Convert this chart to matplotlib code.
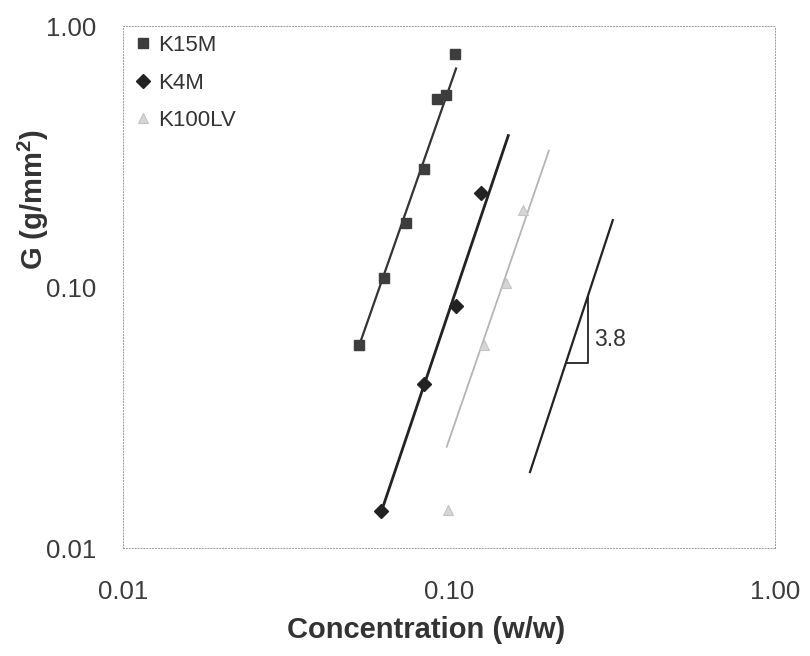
import numpy as np
import matplotlib.pyplot as plt
from matplotlib.ticker import FixedLocator, FormatStrFormatter, NullLocator

plt.rcParams['font.family'] = ['Liberation Sans', 'DejaVu Sans']
plt.rcParams['mathtext.fontset'] = 'custom'
plt.rcParams['mathtext.rm'] = 'Liberation Sans'
plt.rcParams['mathtext.bf'] = 'Liberation Sans:bold'

# measured gel strength vs polymer concentration
conc_k15m = [0.053, 0.063, 0.074, 0.084, 0.092, 0.098, 0.104]
g_k15m = [0.060, 0.108, 0.176, 0.283, 0.524, 0.544, 0.781]

conc_k4m = [0.062, 0.084, 0.105, 0.125]
g_k4m = [0.0139, 0.0424, 0.0846, 0.229]

conc_k100lv = [0.099, 0.128, 0.150, 0.169]
g_k100lv = [0.0140, 0.0599, 0.104, 0.197]

# power-law trendlines  G = a * c^n
fit_coef = [2138.0, 405.0, 108.0]
fit_exp = [3.57, 3.70, 3.62]
fit_lo = [0.053, 0.0621, 0.0984]
fit_hi = [0.1051, 0.152, 0.2025]

# reference slope
guide_exp = 3.8
guide_coef = 14.03
guide_lo, guide_hi = 0.1772, 0.318
tri_lo, tri_hi = 0.2285, 0.2664


def power_line(a, n, lo, hi):
    c = np.geomspace(lo, hi, 50)
    return c, a * c ** n


fig = plt.figure(figsize=(8.1, 6.56), dpi=100)
ax = fig.add_axes([0.1519, 0.1646, 0.8049, 0.7957])

line_styles = [('#333333', 1.6), ('#222222', 2.0), ('#b4b4b4', 1.3)]
for a, n, lo, hi, (col, lw) in zip(fit_coef, fit_exp, fit_lo, fit_hi, line_styles):
    c, g = power_line(a, n, lo, hi)
    ax.plot(c, g, color=col, lw=lw, zorder=2)

ax.plot(conc_k15m, g_k15m, 's', ms=7.2, color='#3d3d3d', label='K15M', zorder=3)
ax.plot(conc_k4m, g_k4m, 'D', ms=6.8, color='#222222', label='K4M', zorder=3)
ax.plot(conc_k100lv, g_k100lv, '^', ms=7.5, color='#c4c4c4', mfc='#d6d6d6',
        mew=0.8, label='K100LV', zorder=3)

# slope 3.8 guide with its triangle
c, g = power_line(guide_coef, guide_exp, guide_lo, guide_hi)
ax.plot(c, g, color='#222222', lw=1.6)
g_a = guide_coef * tri_lo ** guide_exp
g_b = guide_coef * tri_hi ** guide_exp
ax.plot([tri_lo, tri_hi, tri_hi], [g_a, g_a, g_b], color='#222222', lw=1.3)
ax.text(tri_hi * 1.045, g_a * (g_b / g_a) ** 0.35, '3.8', fontsize=16.5,
        color='#333333', ha='left', va='center')

ax.set_xscale('log')
ax.set_yscale('log')
ax.set_xlim(0.01, 1.0)
ax.set_ylim(0.01, 1.0)
for axis in (ax.xaxis, ax.yaxis):
    axis.set_major_locator(FixedLocator([0.01, 0.1, 1.0]))
    axis.set_major_formatter(FormatStrFormatter('%.2f'))
    axis.set_minor_locator(NullLocator())
ax.tick_params(which='both', length=0, labelsize=18.5, labelcolor='#3a3a3a')
ax.tick_params(axis='x', pad=23)
ax.tick_params(axis='y', pad=19)

# thin dotted plot-area border
for s in ax.spines.values():
    s.set_linestyle((0, (1, 2)))
    s.set_color('#9a9a9a')
    s.set_linewidth(0.7)

ax.set_xlabel('Concentration (w/w)', fontsize=21, fontweight='bold',
              color='#333333', va='center')
ax.xaxis.set_label_coords(0.465, -0.157)
ax.set_ylabel('G (g/mm$^\\mathbf{2}$)', fontsize=21, fontweight='bold',
              color='#333333', va='center', ha='center')
ax.yaxis.set_label_coords(-0.138, 0.667)

ax.legend(loc='upper left', bbox_to_anchor=(0.0, 1.0), frameon=False,
          fontsize=16, handlelength=1.0, handletextpad=0.2, borderpad=0.2,
          borderaxespad=0.2, labelspacing=0.75, labelcolor='#333333')

fig.savefig('out.png', dpi=100)
